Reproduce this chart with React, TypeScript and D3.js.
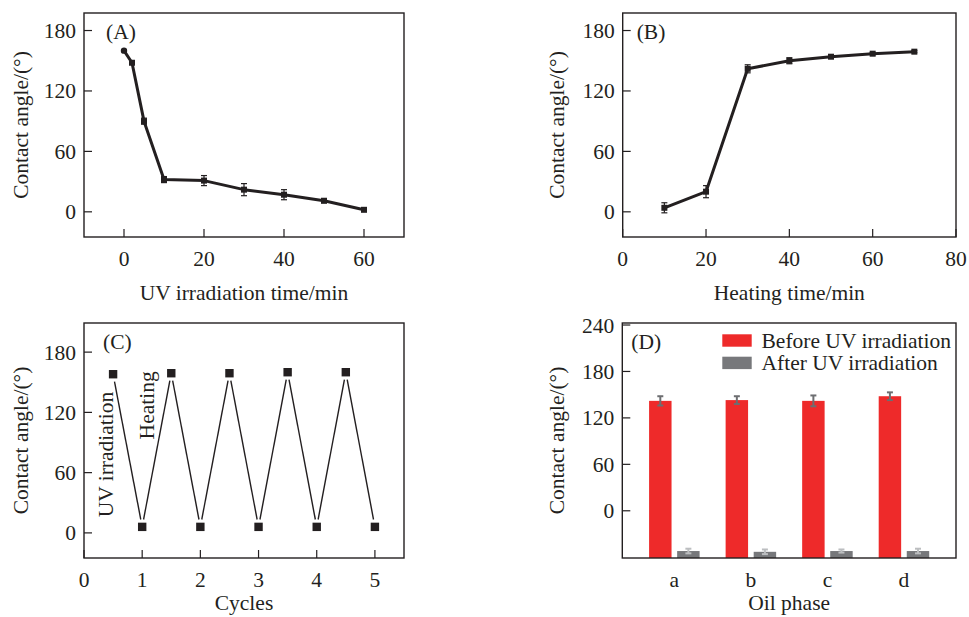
import React from 'react';
import * as d3 from 'd3';

// Panel A: UV irradiation
const uvTime = [0, 2, 5, 10, 20, 30, 40, 50, 60];
const uvAngle = [160, 148, 90, 32, 31, 22, 17, 11, 2];
const uvErr = [1, 1, 3, 3, 5, 6, 5, 2, 1];

// Panel B: heating
const heatTime = [10, 20, 30, 40, 50, 60, 70];
const heatAngle = [4, 20, 142, 150, 154, 157, 159];
const heatErr = [5, 6, 4, 3, 1, 1, 1];

// Panel C: cycles
const cycleX = [0.5, 1, 1.5, 2, 2.5, 3, 3.5, 4, 4.5, 5];
const cycleAngle = [158, 6, 159, 6, 159, 6, 160, 6, 160, 6];

// Panel D: oil phase bars
const oilPhases = ['a', 'b', 'c', 'd'];
const seriesNames = ['Before UV irradiation', 'After UV irradiation'];
const beforeUV = [142, 143, 142, 148];
const beforeErr = [6, 5, 7, 5];
const afterUV = [-52, -53, -52, -52];
const afterErr = [3, 3, 2, 3];

const angleTicks = [0, 60, 120, 180];
const angleTicksD = [0, 60, 120, 180, 240];
const uvTicks = [0, 20, 40, 60];
const heatTicks = [0, 20, 40, 60, 80];
const cycleTicks = [0, 1, 2, 3, 4, 5];

const INK = '#231f20';
const RED = '#ee2a2a';
const GRAY = '#77787b';
const FONT = '"Liberation Serif", "Times New Roman", serif';
const FS = 21.5;
const TICK = 8;

type Box = { x0: number; x1: number; y0: number; y1: number };

const Frame = ({ box, x, y, xTicks, yTicks, xTickMarks, xTitle, xTitleY, yTitleX, tag, tagDx }: any) => (
  <g>
    {yTicks.map((t: number) => (
      <g key={'y' + t}>
        <line x1={box.x0} x2={box.x0 + TICK} y1={y(t)} y2={y(t)} stroke={INK} strokeWidth={1.2} />
        <text x={box.x0 - 8} y={y(t)} dy="0.35em" textAnchor="end">{t}</text>
      </g>
    ))}
    {xTicks.map((t: any) => (
      <g key={'x' + t}>
        {xTickMarks && (
          <line x1={x(t)} x2={x(t)} y1={box.y1} y2={box.y1 - TICK} stroke={INK} strokeWidth={1.2} />
        )}
        <text x={x(t)} y={box.y1 + 21} dy="0.35em" textAnchor="middle">{t}</text>
      </g>
    ))}
    <rect x={box.x0} y={box.y0} width={box.x1 - box.x0} height={box.y1 - box.y0}
      fill="none" stroke={INK} strokeWidth={1.4} />
    <text x={(box.x0 + box.x1) / 2} y={xTitleY} dy="0.35em" textAnchor="middle">{xTitle}</text>
    <text transform={`translate(${yTitleX},${(box.y0 + box.y1) / 2}) rotate(-90)`} dy="0.35em" textAnchor="middle">
      Contact angle/(°)
    </text>
    <text x={box.x0 + tagDx} y={box.y0 + 18} dy="0.35em">{tag}</text>
  </g>
);

const ErrBar = ({ cx, lo, hi, w, color, sw }: any) => (
  <g stroke={color} strokeWidth={sw}>
    <line x1={cx} x2={cx} y1={lo} y2={hi} />
    <line x1={cx - w / 2} x2={cx + w / 2} y1={lo} y2={lo} />
    <line x1={cx - w / 2} x2={cx + w / 2} y1={hi} y2={hi} />
  </g>
);

const LinePanel = ({ box, xDomain, yDomain, xs, ys, errs, xTicks, xTitle, yTitleX, tag, tagDx, firstCircle }: any) => {
  const x = d3.scaleLinear().domain(xDomain).range([box.x0, box.x1]);
  const y = d3.scaleLinear().domain(yDomain).range([box.y1, box.y0]);
  const pts: [number, number][] = xs.map((v: number, i: number) => [x(v), y(ys[i])]);
  const path = d3.line()(pts) || '';
  return (
    <g>
      <Frame box={box} x={x} y={y} xTicks={xTicks} yTicks={angleTicks} xTickMarks xTitle={xTitle}
        xTitleY={box.y1 + 55} yTitleX={yTitleX} tag={tag} tagDx={tagDx} />
      {pts.map((p, i) => (
        <ErrBar key={'e' + i} cx={p[0]} lo={y(ys[i] - errs[i])} hi={y(ys[i] + errs[i])} w={6} color={INK} sw={1.2} />
      ))}
      <path d={path} fill="none" stroke={INK} strokeWidth={3} strokeLinejoin="round" />
      {pts.map((p, i) =>
        firstCircle && i === 0 ? (
          <circle key={'m' + i} cx={p[0]} cy={p[1]} r={3.2} fill={INK} />
        ) : (
          <rect key={'m' + i} x={p[0] - 3} y={p[1] - 3} width={6} height={6} fill={INK} />
        )
      )}
    </g>
  );
};

const CyclePanel = ({ box }: { box: Box }) => {
  const x = d3.scaleLinear().domain([0, 5.5]).range([box.x0, box.x1]);
  const y = d3.scaleLinear().domain([-25, 209]).range([box.y1, box.y0]);
  const pts = cycleX.map((v, i) => [x(v), y(cycleAngle[i])]);
  const gap = 7.5;
  const segs = d3.pairs(pts).map(([a, b]) => {
    const dx = b[0] - a[0];
    const dy = b[1] - a[1];
    const len = Math.hypot(dx, dy);
    const ux = dx / len;
    const uy = dy / len;
    return [a[0] + ux * gap, a[1] + uy * gap, b[0] - ux * gap, b[1] - uy * gap];
  });
  return (
    <g>
      <Frame box={box} x={x} y={y} xTicks={cycleTicks} yTicks={angleTicks} xTickMarks xTitle="Cycles"
        xTitleY={box.y1 + 44} yTitleX={20} tag="(C)" tagDx={19} />
      {segs.map((s, i) => (
        <line key={'s' + i} x1={s[0]} y1={s[1]} x2={s[2]} y2={s[3]} stroke={INK} strokeWidth={1.4} />
      ))}
      {pts.map((p, i) => (
        <rect key={'c' + i} x={p[0] - 4.2} y={p[1] - 4.2} width={8.4} height={8.4} fill={INK} />
      ))}
      <text transform={`translate(${x(0.5) - 8},${y(78)}) rotate(-90)`} dy="0.35em" textAnchor="middle">UV irradiation</text>
      <text transform={`translate(${x(1) + 4},${y(127)}) rotate(-90)`} dy="0.35em" textAnchor="middle">Heating</text>
    </g>
  );
};

const BarPanel = ({ box }: { box: Box }) => {
  const x = d3.scaleBand().domain(oilPhases).range([box.x0, box.x1]).paddingInner(0.34).paddingOuter(0.35);
  const xs = d3.scaleBand().domain(seriesNames).range([0, x.bandwidth()]).paddingInner(0.2);
  const y = d3.scaleLinear().domain([-61, 242.6]).range([box.y1, box.y0]);
  const base = y.domain()[0];
  const series = [
    { name: seriesNames[0], vals: beforeUV, errs: beforeErr, fill: RED, err: '#6d6e71' },
    { name: seriesNames[1], vals: afterUV, errs: afterErr, fill: GRAY, err: '#bcbec0' },
  ];
  return (
    <g>
      {series.map((s) =>
        oilPhases.map((c, i) => {
          const bx = (x(c) || 0) + (xs(s.name) || 0);
          return (
            <g key={s.name + c}>
              <rect x={bx} y={y(s.vals[i])} width={xs.bandwidth()} height={y(base) - y(s.vals[i])} fill={s.fill} />
              <ErrBar cx={bx + xs.bandwidth() / 2} lo={y(s.vals[i] - s.errs[i])} hi={y(s.vals[i] + s.errs[i])}
                w={6} color={s.err} sw={2} />
            </g>
          );
        })
      )}
      <Frame box={box} x={(c: string) => (x(c) || 0) + x.bandwidth() / 2} y={y} xTicks={oilPhases}
        yTicks={angleTicksD} xTickMarks={false} xTitle="Oil phase" xTitleY={box.y1 + 44} yTitleX={556.7}
        tag="(D)" tagDx={9} />
      {series.map((s, i) => (
        <g key={'lg' + i}>
          <rect x={722.3} y={334.3 + i * 22.4} width={29.4} height={12.4} fill={s.fill} />
          <text x={761.5} y={340.5 + i * 22.4} dy="0.35em">{s.name}</text>
        </g>
      ))}
    </g>
  );
};

export default function App() {
  const boxA = { x0: 84, x1: 404, y0: 13, y1: 237 };
  const boxB = { x0: 622.7, x1: 956, y0: 13, y1: 237 };
  const boxC = { x0: 84, x1: 404, y0: 323, y1: 558 };
  const boxD = { x0: 622.3, x1: 956, y0: 323, y1: 558 };
  return (
    <svg width={969} height={617} style={{ position: 'absolute', left: 0, top: 0, background: '#fff' }}
      fontFamily={FONT} fontSize={FS} fill={INK}>
      <LinePanel box={boxA} xDomain={[-10, 70]} yDomain={[-25, 197.4]} xs={uvTime} ys={uvAngle} errs={uvErr}
        xTicks={uvTicks} xTitle="UV irradiation time/min" yTitleX={20} tag="(A)" tagDx={22} firstCircle />
      <LinePanel box={boxB} xDomain={[0, 80]} yDomain={[-25, 197.4]} xs={heatTime} ys={heatAngle} errs={heatErr}
        xTicks={heatTicks} xTitle="Heating time/min" yTitleX={556.7} tag="(B)" tagDx={14} />
      <CyclePanel box={boxC} />
      <BarPanel box={boxD} />
    </svg>
  );
}
